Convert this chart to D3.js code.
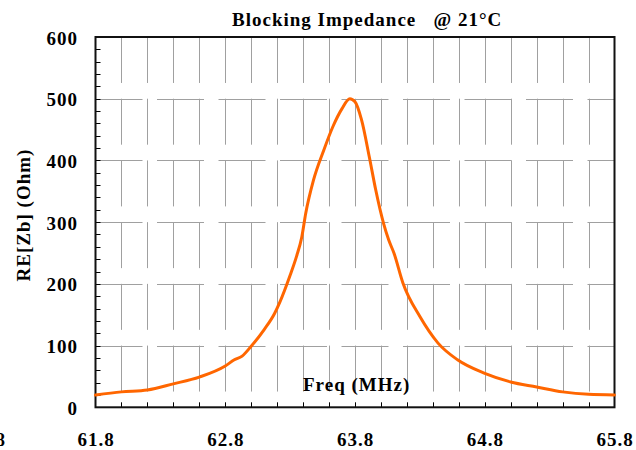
<!DOCTYPE html>
<html>
<head>
<meta charset="utf-8">
<script src="https://cdn.jsdelivr.net/npm/d3@7"></script>
<style>
html,body{margin:0;padding:0;background:#fff;}
svg text{font-family:"Liberation Serif","Times New Roman",serif;font-weight:bold;fill:#000;}
</style>
</head>
<body>
<svg id="chart" width="636" height="450"></svg>
<script>
// ---- data ----
const freq = [61.8, 62.0, 62.2, 62.4, 62.6, 62.8, 62.87, 62.93, 63.0, 63.1, 63.18, 63.22, 63.3, 63.35, 63.39, 63.42, 63.48, 63.56, 63.63, 63.7, 63.76, 63.8, 63.85, 63.91, 63.96, 64.02, 64.06, 64.1, 64.17, 64.3, 64.44, 64.59, 64.8, 65.0, 65.2, 65.4, 65.6, 65.8];
const reZb = [20, 25, 28, 38, 49, 67, 77, 83, 99, 126, 152, 170, 214, 245, 276, 314, 368, 417, 455, 484, 500, 495, 466, 406, 352, 298, 271, 250, 201, 147, 104, 77, 55, 41, 33, 25, 21, 20];
const xTickLabels = [61.8, 62.8, 63.8, 64.8, 65.8];
const yTickLabels = [0, 100, 200, 300, 400, 500, 600];
const title = "Blocking Impedance   @ 21°C";
const xTitle = "Freq (MHz)";
const yTitle = "RE[Zb] (Ohm)";

const svg = d3.select("#chart");
const L = 95.5, R = 614.5, T = 37, B = 407.3;
const x = d3.scaleLinear().domain([61.8, 65.8]).range([L, R]);
const y = d3.scaleLinear().domain([0, 600]).range([B, T]);

const fontSize = 19, ls = 1;
const grid = "#a0a0a0";

// vertical gridlines every 0.2 MHz
const minorX = d3.range(1, 20).map(i => 61.8 + i * 0.2);
const band = y(0) - y(100);
svg.append("g").selectAll("line").data(minorX).join("line")
  .attr("x1", d => Math.round(x(d)) + 0.5).attr("x2", d => Math.round(x(d)) + 0.5)
  .attr("y1", y(600)).attr("y2", y(0))
  .attr("stroke", grid).attr("stroke-width", 1)
  .attr("stroke-dasharray", `${band * 0.745},${band * 0.255}`);

// horizontal gridlines
svg.append("g").selectAll("line").data([100, 200, 300, 400, 500]).join("line")
  .attr("x1", L).attr("x2", R)
  .attr("y1", d => Math.round(y(d)) + 0.5).attr("y2", d => Math.round(y(d)) + 0.5)
  .attr("stroke", grid).attr("stroke-width", 1)
  .attr("stroke-dasharray", "47,14.5");

// y minor ticks (inside)
svg.append("g").selectAll("line").data(d3.range(20, 600, 20)).join("line")
  .attr("x1", L).attr("x2", L + 5)
  .attr("y1", d => Math.round(y(d)) + 0.5).attr("y2", d => Math.round(y(d)) + 0.5)
  .attr("stroke", "#000").attr("stroke-width", 1);

// x ticks (inside)
svg.append("g").selectAll("line").data(minorX).join("line")
  .attr("x1", d => Math.round(x(d)) + 0.5).attr("x2", d => Math.round(x(d)) + 0.5)
  .attr("y1", B).attr("y2", B - 5)
  .attr("stroke", "#000").attr("stroke-width", 1);

// frame
svg.append("rect").attr("x", L).attr("y", T).attr("width", R - L).attr("height", B - T)
  .attr("fill", "none").attr("stroke", "#111").attr("stroke-width", 2);

// curve
const line = d3.line().x((d, i) => x(freq[i])).y(d => y(d)).curve(d3.curveMonotoneX);
svg.append("path").datum(reZb).attr("d", line)
  .attr("fill", "none").attr("stroke", "#ff6600").attr("stroke-width", 3)
  .attr("stroke-linejoin", "round").attr("stroke-linecap", "round");

// y tick labels
svg.append("g").selectAll("text").data(yTickLabels).join("text")
  .attr("x", 78).attr("y", d => y(d) + 7.5)
  .attr("text-anchor", "end").style("font-size", fontSize + "px").style("letter-spacing", ls + "px")
  .text(d => d);

// x tick labels
svg.append("g").selectAll("text").data(xTickLabels).join("text")
  .attr("x", d => x(d) + 0.5).attr("y", 446)
  .attr("text-anchor", "middle").style("font-size", fontSize + "px").style("letter-spacing", ls + "px")
  .text(d => d.toFixed(1));
// clipped label at the far left edge
svg.append("text").attr("x", 6).attr("y", 446).attr("text-anchor", "end")
  .style("font-size", fontSize + "px").style("letter-spacing", ls + "px").text("60.8");

// titles
svg.append("text").attr("x", 232).attr("y", 26)
  .style("font-size", fontSize + "px").style("letter-spacing", ls + "px").style("white-space", "pre")
  .text(title);
svg.append("text").attr("x", 303).attr("y", 391)
  .style("font-size", fontSize + "px").style("letter-spacing", ls + "px")
  .text(xTitle);
svg.append("text").attr("transform", "translate(30,215) rotate(-90)")
  .attr("text-anchor", "middle")
  .style("font-size", fontSize + "px").style("letter-spacing", ls + "px")
  .text(yTitle);
</script>
</body>
</html>
